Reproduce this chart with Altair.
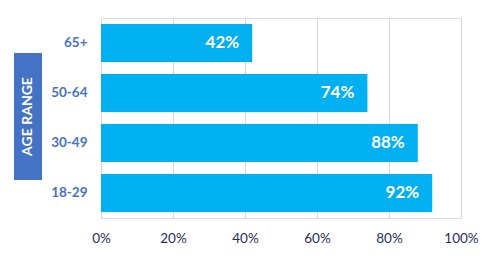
import altair as alt
import pandas as pd

ages = ["65+", "50-64", "30-49", "18-29"]
shares = [0.42, 0.74, 0.88, 0.92]
labels = ["42%", "74%", "88%", "92%"]

df = pd.DataFrame({"age": ages, "share": shares, "label": labels})

FONT = "Lato"
y_enc = alt.Y("age:N", sort=ages, scale=alt.Scale(paddingInner=0.24, paddingOuter=0.12),
              axis=alt.Axis(title=None, domain=False, ticks=False, grid=False,
                            labelColor="#4472C4", labelFontWeight="bold", labelFontSize=13.5,
                            labelFont=FONT, labelPadding=14))
x_enc = alt.X("share:Q", scale=alt.Scale(domain=[0, 1]),
              axis=alt.Axis(title=None, format=".0%", values=[0, 0.2, 0.4, 0.6, 0.8, 1.0],
                            domain=False, ticks=False, grid=True, gridColor="#D9D9D9",
                            gridWidth=1, labelColor="#1F2D5A", labelFontSize=13.5,
                            labelFont=FONT, labelPadding=13, labelFlush=False))

bars = alt.Chart(df).mark_bar(color="#00B0F0").encode(x=x_enc, y=y_enc)
text = alt.Chart(df).mark_text(align="right", baseline="middle", dx=-13, color="white",
                               fontWeight="bold", fontSize=17, font=FONT).encode(
    x="share:Q", y=alt.Y("age:N", sort=ages), text="label:N")

box = alt.Chart(pd.DataFrame({"t": ["AGE RANGE"]})).mark_rect(color="#4472C4", clip=False).encode(
    x=alt.value(-87), x2=alt.value(-59), y=alt.value(35), y2=alt.value(162))
box_text = alt.Chart(pd.DataFrame({"t": ["AGE RANGE"]})).mark_text(
    angle=270, color="white", fontWeight="bold", fontSize=14, font=FONT,
    align="center", baseline="middle").encode(
    x=alt.value(-73), y=alt.value(98.5), text="t:N")

chart = alt.layer(bars, text, box, box_text).properties(
    width=360, height=200,
    autosize=alt.AutoSizeParams(type="none"),
    padding={"left": 101, "top": 18, "right": 32, "bottom": 52},
).configure_view(stroke=None).configure(background="white")

chart.save("out.html", embed_options={"renderer": "svg", "actions": False})
